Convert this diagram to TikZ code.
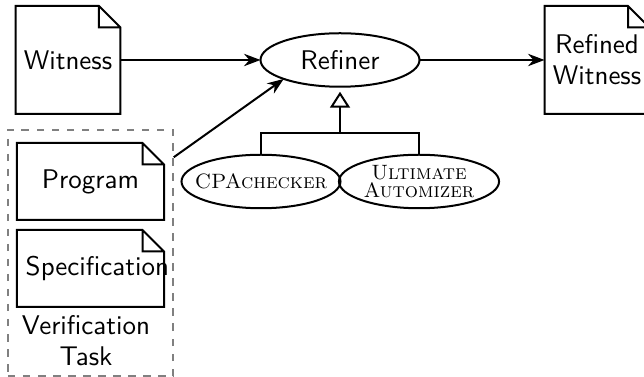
\documentclass[tikz,border=0pt]{standalone}
\usetikzlibrary{arrows.meta,shapes.geometric}

\tikzset{
  docfile/.style={outer sep=0pt, minimum width=39.2pt, minimum height=43.2pt},
  taskfile/.style={outer sep=0pt, minimum width=58.8pt, minimum height=30.8pt},
  tool/.style={ellipse, draw, thick, outer sep=0pt, minimum width=63.6pt, minimum height=21.4pt, inner sep=0.5pt},
  toolfont/.style={font=\rmfamily\fontsize{8.3}{7.2}\selectfont},
  flow/.style={thick, -{Stealth}}
}

\begin{document}
\begin{tikzpicture}[x=0.4pt, y=-0.4pt, font=\sffamily\fontsize{10.8}{12.4}\selectfont]
\useasboundingbox (0,0) rectangle (644,377);

\node[docfile] (wit) at (68,60) {Witness};
\node[tool] (refiner) at (340,60) {Refiner};
\node[docfile, align=center] (refwit) at (597,60) {Refined\\Witness};

% verification task
\node[draw, gray, dashed, semithick, minimum width=66pt, minimum height=98.4pt] (task) at (90.5,253) {};
\node[taskfile] (prog) at (90.5,181.5) {Program};
\node[taskfile, text width=58.8pt, inner xsep=0pt, align=flush left] (spec) at (90.5,268.5) {\hspace*{3.5pt}\mbox{Specification}};
\node[align=center] (tasklbl) at (86,341) {Verification\\Task};

% tools
\node[tool, toolfont, inner xsep=-4pt, inner ysep=0pt] (cpa) at (261,181.5) {\textsc{CPAchecker}};
\node[tool, toolfont, align=center] (ua) at (419,181.5) {\textsc{Ultimate}\\\textsc{Automizer}};

% folded corners
\foreach \n in {wit,refwit,prog,spec}
  \draw[thick] (\n.north west) -- ([xshift=-8.6pt]\n.north east) -- ([yshift=-8.6pt]\n.north east) |- (\n.south west) -- cycle
    ([xshift=-8.6pt]\n.north east) |- ([yshift=-8.6pt]\n.north east);

\draw[flow] (wit) -- (refiner);
\draw[flow] (refiner) -- (refwit);
\draw[flow] ([yshift=-11.2pt]task.north east) -- (refiner.south west);

\coordinate (join) at (340,133);
\draw[thick] (cpa.north) |- (join) -| (ua.north);
\draw[thick, -{Triangle[open, length=6.4pt, width=8pt]}, shorten >=2pt] (join) -- (refiner.south);
\end{tikzpicture}
\end{document}
